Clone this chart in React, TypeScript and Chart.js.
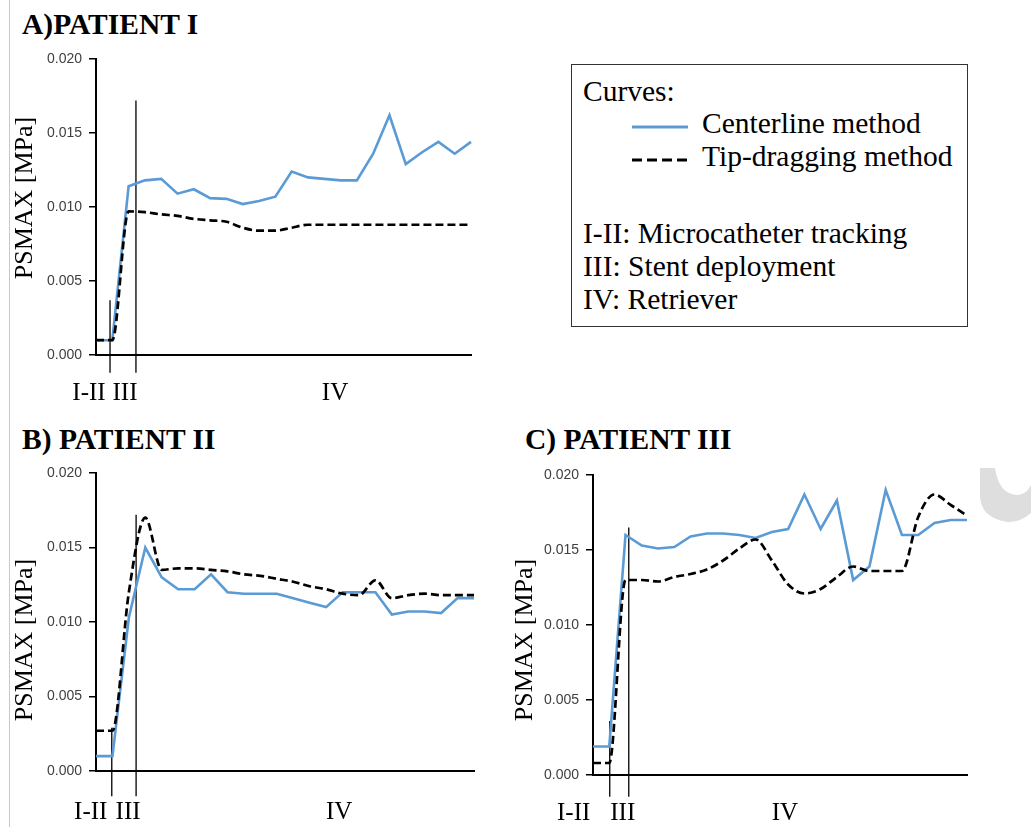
import React, { useEffect, useRef } from 'react';
import { Chart, registerables } from 'chart.js';

Chart.register(...registerables);

// ---------- data ----------
const STEPS = [0, 1, 2, 3, 4, 5, 6, 7, 8, 9, 10, 11, 12, 13, 14, 15, 16, 17, 18, 19, 20, 21, 22, 23];

const A_CENTERLINE = [0.0010, 0.0010, 0.0114, 0.0118, 0.0119, 0.0109, 0.0112, 0.0106, 0.01055, 0.0102, 0.0104, 0.0107, 0.0124, 0.0120, 0.0119, 0.0118, 0.0118, 0.0136, 0.0162, 0.0129, 0.0137, 0.0144, 0.0136, 0.0144];
const A_TIPDRAG = [0.0010, 0.0010, 0.0097, 0.00965, 0.0095, 0.0094, 0.0092, 0.0091, 0.0090, 0.0086, 0.0084, 0.0084, 0.0086, 0.0088, 0.0088, 0.0088, 0.0088, 0.0088, 0.0088, 0.0088, 0.0088, 0.0088, 0.0088, 0.0088];

const B_CENTERLINE = [0.0010, 0.0010, 0.0103, 0.0150, 0.0130, 0.0122, 0.0122, 0.0132, 0.0120, 0.0119, 0.0119, 0.0119, 0.0116, 0.0113, 0.0110, 0.0120, 0.0120, 0.0120, 0.0105, 0.0107, 0.0107, 0.0106, 0.0116, 0.0116];
const B_TIPDRAG = [0.0027, 0.0027, 0.0120, 0.0170, 0.0135, 0.0136, 0.0136, 0.0135, 0.0134, 0.0132, 0.0131, 0.0129, 0.0127, 0.0124, 0.0122, 0.0119, 0.0118, 0.0128, 0.0116, 0.0118, 0.0119, 0.0118, 0.0118, 0.0118];

const C_CENTERLINE = [0.0019, 0.0019, 0.0160, 0.0153, 0.0151, 0.0152, 0.0159, 0.0161, 0.0161, 0.0160, 0.0158, 0.0162, 0.0164, 0.0187, 0.0164, 0.0183, 0.0130, 0.0139, 0.0190, 0.0160, 0.0160, 0.0168, 0.0170, 0.0170];
const C_TIPDRAG = [0.0008, 0.0008, 0.0130, 0.0130, 0.0129, 0.0132, 0.0134, 0.0137, 0.0143, 0.0151, 0.0157, 0.0143, 0.0127, 0.0121, 0.0124, 0.0132, 0.0139, 0.0136, 0.0136, 0.0136, 0.0172, 0.0187, 0.0180, 0.0173];

// phase marker lines (x position in steps, top and bottom values)
const A_MARKER_X = [0.86, 2.45];
const A_MARKER_TOP = [0.0037, 0.0172];
const B_MARKER_X = [0.96, 2.44];
const B_MARKER_TOP = [0.0029, 0.0172];
const C_MARKER_X = [1.03, 2.2];
const C_MARKER_TOP = [0.0036, 0.0165];
const A_MARKER_BOTTOM = -0.0012;
const B_MARKER_BOTTOM = -0.0017;
const C_MARKER_BOTTOM = -0.00145;

const PHASE_LABELS = ['I-II', 'III', 'IV'];
const A_PHASE_POS = [-0.43, 1.78, 14.66];
const B_PHASE_POS = [-0.32, 1.95, 14.79];
const C_PHASE_POS = [-1.19, 1.83, 11.8];

const Y_TICKS = [0, 0.005, 0.01, 0.015, 0.02];
const Y_TITLE = 'PSMAX [MPa]';
const SERIES_NAMES = ['Centerline method', 'Tip-dragging method'];
const TITLES = ['A)PATIENT I', 'B) PATIENT II', 'C) PATIENT III'];
const LEGEND_HEAD = 'Curves:';
const PHASE_NOTES = ['I-II: Microcatheter tracking', 'III: Stent deployment', 'IV: Retriever'];

const BLUE = '#5B9BD5';
const SERIF = '"Liberation Serif", "Times New Roman", serif';
const SANS = '"Liberation Sans", Arial, sans-serif';

type PanelCfg = {
  left: number; top: number; w: number; h: number;
  yAxisW: number; xAxisH: number; padTop: number; padRight: number;
  center: number[]; tip: number[];
  markerX: number[]; markerTop: number[]; markerBottom: number;
  phasePos: number[]; labelDy: number;
  titleX: number; titleY: number;
};

const PANELS: PanelCfg[] = [
  {
    left: 0, top: 40, w: 490, h: 380, yAxisW: 96, xAxisH: 65, padTop: 19, padRight: 19,
    center: A_CENTERLINE, tip: A_TIPDRAG, markerX: A_MARKER_X, markerTop: A_MARKER_TOP, markerBottom: A_MARKER_BOTTOM,
    phasePos: A_PHASE_POS, labelDy: 38, titleX: 25, titleY: 158,
  },
  {
    left: 0, top: 430, w: 500, h: 397, yAxisW: 96, xAxisH: 56, padTop: 43, padRight: 26,
    center: B_CENTERLINE, tip: B_TIPDRAG, markerX: B_MARKER_X, markerTop: B_MARKER_TOP, markerBottom: B_MARKER_BOTTOM,
    phasePos: B_PHASE_POS, labelDy: 41, titleX: 25, titleY: 210,
  },
  {
    left: 500, top: 430, w: 531, h: 397, yAxisW: 93, xAxisH: 52, padTop: 45, padRight: 64,
    center: C_CENTERLINE, tip: C_TIPDRAG, markerX: C_MARKER_X, markerTop: C_MARKER_TOP, markerBottom: C_MARKER_BOTTOM,
    phasePos: C_PHASE_POS, labelDy: 38, titleX: 25, titleY: 210,
  },
];

function Panel({ cfg }: { cfg: PanelCfg }) {
  const ref = useRef<HTMLCanvasElement>(null);
  useEffect(() => {
    const annot = {
      id: 'annot',
      afterDraw(chart: any) {
        const { ctx, scales } = chart;
        const x = scales.x, y = scales.y;
        ctx.save();
        ctx.fillStyle = '#000';
        ctx.textAlign = 'center';
        ctx.textBaseline = 'middle';
        ctx.font = `25px ${SERIF}`;
        PHASE_LABELS.forEach((t, i) => {
          ctx.fillText(t, x.getPixelForValue(cfg.phasePos[i]), y.bottom + cfg.labelDy);
        });
        ctx.translate(cfg.titleX, cfg.titleY);
        ctx.rotate(-Math.PI / 2);
        ctx.font = `26px ${SERIF}`;
        ctx.fillText(Y_TITLE, 0, 0);
        ctx.restore();
      },
    };
    const markerSets = cfg.markerX.map((mx, i) => ({
      label: 'marker' + i,
      data: [{ x: mx, y: cfg.markerTop[i] }, { x: mx, y: cfg.markerBottom }],
      borderColor: '#000',
      borderWidth: 1.3,
      pointRadius: 0,
      clip: false,
      order: 3,
    }));
    const chart = new Chart(ref.current!, {
      type: 'line',
      data: {
        datasets: [
          {
            label: SERIES_NAMES[1],
            data: STEPS.map((s, i) => ({ x: s, y: cfg.tip[i] })),
            borderColor: '#000',
            borderWidth: 2.7,
            borderDash: [8, 4],
            pointRadius: 0,
            cubicInterpolationMode: 'monotone',
            clip: false,
            order: 0,
          },
          {
            label: SERIES_NAMES[0],
            data: STEPS.map((s, i) => ({ x: s, y: cfg.center[i] })),
            borderColor: BLUE,
            borderWidth: 2.6,
            pointRadius: 0,
            tension: 0,
            clip: false,
            order: 1,
          },
          ...markerSets,
        ] as any,
      },
      options: {
        responsive: false,
        animation: false,
        events: [],
        layout: { padding: { top: cfg.padTop, right: cfg.padRight, left: 0, bottom: 0 } },
        plugins: { legend: { display: false }, tooltip: { enabled: false }, title: { display: false } },
        scales: {
          x: {
            type: 'linear',
            min: 0,
            max: 23,
            ticks: { display: false },
            grid: { display: false },
            border: { display: true, color: '#000', width: 2 },
            afterFit: (s: any) => { s.height = cfg.xAxisH; },
          },
          y: {
            type: 'linear',
            min: 0,
            max: 0.02,
            afterBuildTicks: (s: any) => { s.ticks = Y_TICKS.map((v) => ({ value: v })); },
            ticks: {
              callback: (v: any) => Number(v).toFixed(3),
              color: '#404040',
              font: { family: SANS, size: 14 },
              padding: 7,
            },
            grid: { display: true, drawOnChartArea: false, drawTicks: true, tickLength: 7, color: '#000', lineWidth: 1.5 },
            border: { display: true, color: '#000', width: 2 },
            afterFit: (s: any) => { s.width = cfg.yAxisW; },
          },
        },
      },
      plugins: [annot],
    } as any);
    return () => chart.destroy();
  }, []);
  return (
    <canvas
      ref={ref}
      width={cfg.w}
      height={cfg.h}
      style={{ position: 'absolute', left: cfg.left, top: cfg.top, width: cfg.w, height: cfg.h }}
    />
  );
}

const titleStyle = (left: number, top: number): React.CSSProperties => ({
  position: 'absolute', left, top, fontFamily: SERIF, fontWeight: 'bold', fontSize: 29.5,
  lineHeight: '29.5px', whiteSpace: 'nowrap', color: '#000',
});

const legText = (left: number, top: number): React.CSSProperties => ({
  position: 'absolute', left, top, fontFamily: SERIF, fontSize: 29.5, lineHeight: '29.5px',
  whiteSpace: 'nowrap', color: '#000',
});

export default function App() {
  return (
    <div style={{ position: 'absolute', left: 0, top: 0, width: 1031, height: 827, background: '#fff', overflow: 'hidden' }}>
      <div style={{ position: 'absolute', left: 9, top: 0, width: 1, height: 827, background: '#c8c8c8' }} />
      <div style={titleStyle(22, 10)}>{TITLES[0]}</div>
      <div style={titleStyle(22, 425)}>{TITLES[1]}</div>
      <div style={titleStyle(525, 425)}>{TITLES[2]}</div>
      {PANELS.map((p, i) => <Panel key={i} cfg={p} />)}
      <div style={{ position: 'absolute', left: 571, top: 64, width: 397, height: 263, boxSizing: 'border-box', border: '1.5px solid #333' }} />
      <div style={legText(583, 77)}>{LEGEND_HEAD}</div>
      <svg style={{ position: 'absolute', left: 620, top: 110, overflow: 'visible' }} width={80} height={60}>
        <line x1={12} y1={17} x2={68} y2={17} stroke={BLUE} strokeWidth={3} />
        <line x1={12} y1={50} x2={68} y2={50} stroke="#000" strokeWidth={3.2} strokeDasharray="10 5" />
      </svg>
      <div style={legText(702, 109)}>{SERIES_NAMES[0]}</div>
      <div style={legText(702, 142)}>{SERIES_NAMES[1]}</div>
      <div style={legText(583, 219)}>{PHASE_NOTES[0]}</div>
      <div style={legText(583, 252)}>{PHASE_NOTES[1]}</div>
      <div style={legText(583, 285)}>{PHASE_NOTES[2]}</div>
      <svg style={{ position: 'absolute', left: 975, top: 465 }} width={56} height={60}>
        <path d="M5,3 L20,3 Q24,30 43,30 Q52,29 56,20 L56,48 Q46,57 33,57 Q5,53 5,30 Z" fill="#dedede" />
      </svg>
    </div>
  );
}
